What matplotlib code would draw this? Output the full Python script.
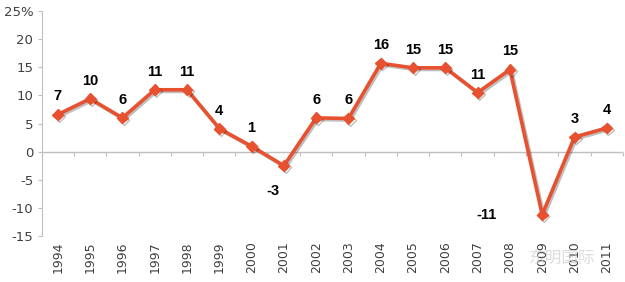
import numpy as np
import matplotlib
matplotlib.use("Agg")
import matplotlib.pyplot as plt
import matplotlib.patheffects as pe
from matplotlib import font_manager

# --- DATA ---
years = [str(y) for y in range(1994, 2012)]
growth = [6.6, 9.4, 6.0, 11.0, 11.0, 4.1, 0.95, -2.5, 6.0, 5.9,
          15.7, 14.9, 14.9, 10.5, 14.6, -11.2, 2.6, 4.2]
point_labels = ['7', '10', '6', '11', '11', '4', '1', '-3', '6', '6',
                '16', '15', '15', '11', '15', '-11', '3', '4']
y_ticks = [-15, -10, -5, 0, 5, 10, 15, 20, 25]
y_ticklabels = ['-15', '-10', '-5', '0', '5', '10', '15', '20', '25%']

LINE_COL = '#E8512F'
TEXT_COL = '#404040'
AXIS_COL = '#BFBFBF'

# condensed bold face for the point labels, if there is one
names = {f.name for f in font_manager.fontManager.ttflist}
label_family = 'Liberation Sans Narrow' if 'Liberation Sans Narrow' in names else 'Liberation Sans'

fig = plt.figure(figsize=(6.25, 2.82), dpi=100)
ax = fig.add_axes([0.0667, 0.163, 0.93, 0.798])

x = np.arange(len(years))
ax.plot(x, growth, color=LINE_COL, lw=2.6, marker='D', ms=5.5,
        markeredgecolor=LINE_COL, zorder=3,
        path_effects=[pe.SimpleLineShadow(offset=(1.2, -1.2), alpha=0.25),
                      pe.Normal()])

# data labels
for i, (v, lab) in enumerate(zip(growth, point_labels)):
    if lab == '-3':
        dx, dy = -8, -18
    elif lab == '-11':
        dx, dy = -40, 0
    else:
        dx, dy = 0, 13
    ax.annotate(lab, (i, v), xytext=(dx, dy), textcoords='offset points',
                ha='center', va='center', fontsize=10.5, fontweight='bold',
                family=label_family, color='black')

ax.set_xlim(-0.5, len(years) - 0.5)
ax.set_ylim(-15, 25)

ax.set_yticks(y_ticks)
ax.set_yticklabels(y_ticklabels, fontsize=9.5, color=TEXT_COL)
ax.tick_params(axis='y', length=3, color=AXIS_COL, pad=3)

ax.set_xticks(x)
ax.set_xticklabels(years, rotation=90, fontsize=9, color=TEXT_COL)
ax.tick_params(axis='x', length=0, pad=4)

for s in ['top', 'right', 'bottom']:
    ax.spines[s].set_visible(False)
ax.spines['left'].set_color(AXIS_COL)

# zero line with category boundary ticks
ax.axhline(0, color=AXIS_COL, lw=1, zorder=1)
sec = ax.secondary_xaxis(15 / 40)
sec.set_xticks(np.arange(-0.5, len(years), 1.0))
sec.set_xticklabels([])
sec.tick_params(axis='x', length=3, color=AXIS_COL, direction='out')
sec.spines['bottom'].set_visible(False)

# faint watermark
fig.text(0.90, 0.085, '东明国际', fontsize=12, color='#D0D0D0', alpha=0.7,
         ha='center', va='center', family=['Noto Sans CJK SC', 'DejaVu Sans'])

fig.savefig('out.png', dpi=100, facecolor='white')
